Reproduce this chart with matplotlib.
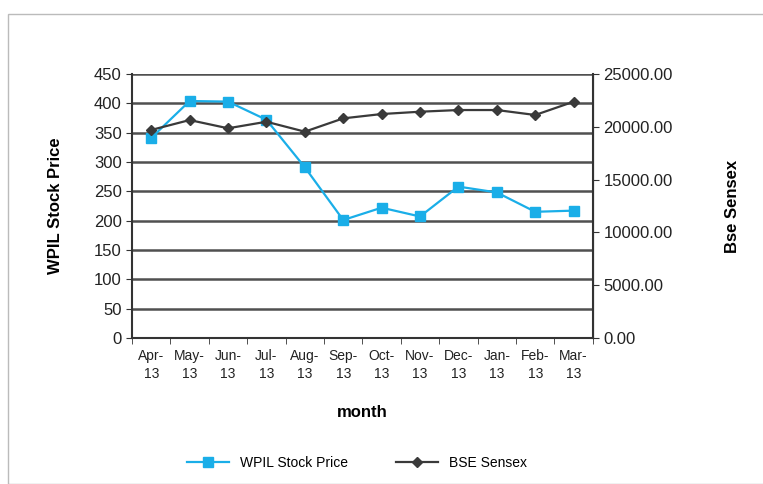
import matplotlib.pyplot as plt
import numpy as np
from matplotlib.patches import Rectangle

plt.rcParams['font.family'] = ['Liberation Sans', 'DejaVu Sans']

months = ["Apr-\n13", "May-\n13", "Jun-\n13", "Jul-\n13", "Aug-\n13", "Sep-\n13",
          "Oct-\n13", "Nov-\n13", "Dec-\n13", "Jan-\n13", "Feb-\n13", "Mar-\n13"]
wpil = [341, 404, 403, 372, 291, 201, 222, 207, 258, 248, 215, 217]
sensex = [19700, 20640, 19860, 20480, 19540, 20800, 21210, 21430, 21590, 21590, 21120, 22380]

fig = plt.figure(figsize=(7.63, 4.84), dpi=100)
fig.patches.append(Rectangle((8 / 763, 0), 1, 1 - 14 / 484, transform=fig.transFigure,
                             fill=False, edgecolor='#bbbbbb', linewidth=1))
ax = fig.add_axes([0.173, 0.302, 0.604, 0.545])
x = np.arange(len(months))

ax.set_ylim(0, 450)
ax.set_yticks(range(0, 451, 50))
ax.set_xlim(-0.5, len(months) - 0.5)
ax.grid(axis='y', color='#505050', linewidth=1.8)
ax.set_axisbelow(True)
ax.spines['top'].set_visible(False)
ax.spines['left'].set_color('#333333')
ax.spines['bottom'].set_color('#333333')
ax.spines['left'].set_linewidth(1.5)
ax.spines['bottom'].set_linewidth(1.5)

ax.set_xticks(x)
ax.set_xticklabels(months, fontsize=10, color='#222222', linespacing=1.4)
ax.tick_params(axis='x', length=0, pad=8)
ax.set_xticks(np.arange(-0.5, len(months), 1), minor=True)
ax.tick_params(axis='x', which='minor', length=4, direction='out', color='#333333')
ax.tick_params(axis='y', labelsize=12, length=4, color='#333333', labelcolor='#222222')

ax2 = ax.twinx()
ax2.set_ylim(0, 25000)
ax2.set_yticks(range(0, 25001, 5000))
ax2.set_yticklabels([f"{v:.2f}" for v in range(0, 25001, 5000)])
ax2.tick_params(axis='y', labelsize=12, length=4, color='#333333', labelcolor='#222222')
ax2.spines['right'].set_color('#333333')
ax2.spines['right'].set_linewidth(1.5)
ax2.spines['top'].set_visible(False)
ax2.spines['left'].set_visible(False)
ax2.spines['bottom'].set_visible(False)

l1, = ax.plot(x, wpil, color='#1aaee8', marker='s', markersize=7, linewidth=1.6,
              label='WPIL Stock Price')
l2, = ax2.plot(x, sensex, color='#3a3a3a', marker='D', markersize=5, linewidth=1.6,
               label='BSE Sensex')

ax.set_ylabel("WPIL Stock Price", fontsize=12, fontweight='bold', labelpad=22)
ax2.set_ylabel("Bse Sensex", fontsize=12, fontweight='bold', labelpad=38)
ax.set_xlabel("month", fontsize=12, fontweight='bold', labelpad=17)

fig.legend(handles=[l1, l2], loc='center', bbox_to_anchor=(0.468, 0.043), ncol=2,
           frameon=False, fontsize=10, handlelength=3, columnspacing=3.5)

fig.savefig("out.png", dpi=100)
